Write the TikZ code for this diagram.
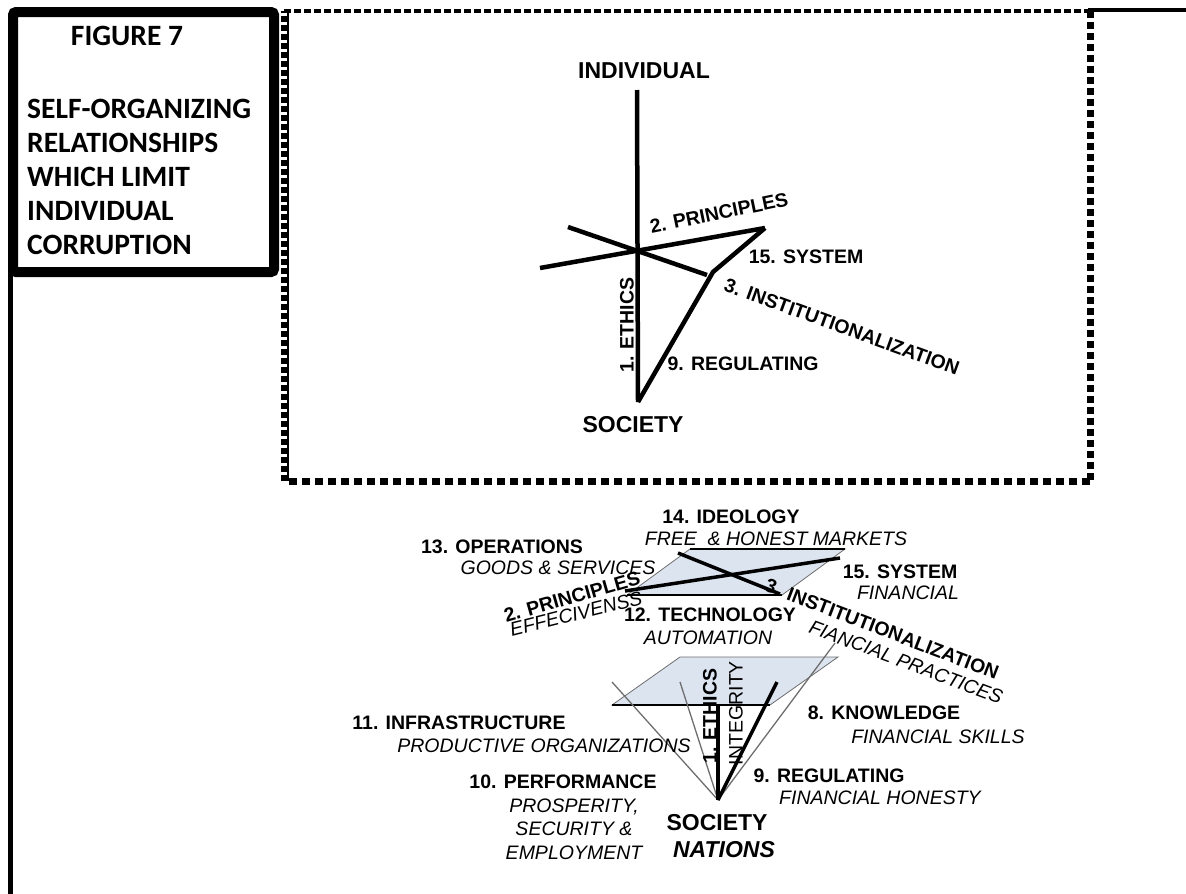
\documentclass[tikz,border=0pt]{standalone}
\usepackage{fontspec}
\newfontfamily\arl{Liberation Sans}
\newfontfamily\carl{Carlito}
\definecolor{plane}{RGB}{220,228,240}
\definecolor{thinline}{RGB}{110,110,110}
\tikzset{
  lb/.style={font=\arl\bfseries\fontsize{19.5}{22}\selectfont, inner sep=0pt},
  li/.style={font=\arl\itshape\fontsize{19.5}{22}\selectfont, inner sep=0pt},
  big/.style={font=\arl\bfseries\fontsize{23}{26}\selectfont, inner sep=0pt},
  bigi/.style={font=\arl\bfseries\itshape\fontsize{23}{26}\selectfont, inner sep=0pt},
  title/.style={font=\carl\bfseries\fontsize{29.5}{34}\selectfont, inner sep=0pt},
  axline/.style={line width=4.5pt},
  mainline/.style={line width=3.5pt},
  guide/.style={line width=1.3pt, thinline},
  planebox/.style={fill=plane, draw=thinline, line width=0.8pt},
}
\begin{document}
\begin{tikzpicture}[x=1pt,y=-1pt]
\useasboundingbox (0,0) rectangle (1186,894);

% ---------- outer frame and title box ----------
\draw[line width=5pt] (10.5,270) -- (10.5,894);
\draw[line width=4pt] (1088,10) -- (1186,10);
\draw[line width=10pt, rounded corners=3pt] (13,12) rectangle (274,272);
\node[title] (fig) at (127,36) {FIGURE 7};
\node[title, anchor=north west, align=left] (ttl) at (27,99)
  {SELF-ORGANIZING\\RELATIONSHIPS\\WHICH LIMIT\\INDIVIDUAL\\CORRUPTION};

% ---------- dotted box ----------
\draw[line width=4pt, dash pattern=on 7pt off 3pt] (284,11) -- (1090,11);
\draw[line width=7pt, dash pattern=on 7pt off 4pt] (1090,11) -- (1090,481);
\draw[line width=7pt, dash pattern=on 8pt off 5pt] (1090,481) -- (285,481);
\draw[line width=8pt, dash pattern=on 6pt off 3pt] (285,481) -- (285,11);
\draw[line width=2.5pt] (288,11) -- (288,481);

% ---------- top diagram ----------
\coordinate (tTop) at (637,90);
\coordinate (tBot) at (638,402);
\coordinate (pL) at (540,268);
\coordinate (pR) at (765,228);
\coordinate (iL) at (568,227);
\coordinate (iR) at (707,275);
\coordinate (sBend) at (713,272);
\node[big] (ind) at (644,71) {INDIVIDUAL};
\node[big] (soc) at (633,425) {SOCIETY};
\draw[axline] (tTop) -- (tBot);
\draw[axline] (pL) -- (pR);
\draw[axline] (iL) -- (iR);
\draw[axline, line join=round] (pR) -- (sBend) -- (tBot);
\node[lb, rotate=90] (eth) at (627,325) {1. ETHICS};
\node[lb, rotate=11.6] (pri) at (719,213) {2. PRINCIPLES};
\node[lb] (sys) at (806,257) {15. SYSTEM};
\node[lb, rotate=-20] (ins) at (842,327) {3. INSTITUTIONALIZATION};
\node[lb] (reg) at (743,364) {9. REGULATING};

% ---------- bottom diagram: planes ----------
\coordinate (apex) at (718,800);
\path[planebox] (627,595) -- (690,549) -- (845,549) -- (782,595) -- cycle;
\draw[line width=1.5pt] (690,549) -- (845,549);
\draw[line width=2pt] (627,595) -- (782,595);
\path[planebox] (612,705) -- (680,657) -- (838,657) -- (770,705) -- cycle;
\draw[line width=1.8pt] (612,705) -- (770,705);

% thick lines in upper plane
\draw[mainline] (625,591) -- (840,558);
\draw[mainline] (678,553) -- (780,594);

% converging lines to apex
\coordinate (g1) at (612,682);
\coordinate (g2) at (680,682);
\coordinate (g3) at (835,643);
\coordinate (intTop) at (777,682);
\coordinate (ethTop) at (718,705);
\draw[guide] (g1) -- (apex);
\draw[guide] (g2) -- (apex);
\draw[guide] (g3) -- (apex);
\draw[mainline] (ethTop) -- (apex);
\draw[mainline] (intTop) -- (apex);

% ---------- bottom labels ----------
\node[lb] (ideo) at (731,517) {14. IDEOLOGY};
\node[li] (free) at (776,539) {FREE\ \ \& HONEST MARKETS};
\node[lb] (ops) at (502,547) {13. OPERATIONS};
\node[li] (goods) at (558,568) {GOODS \& SERVICES};
\node[lb, rotate=16] (pri2) at (572,597) {2. PRINCIPLES};
\node[li, rotate=14] (eff) at (576,614) {EFFECIVENSS};
\node[lb] (tech) at (710,615) {12. TECHNOLOGY};
\node[li] (auto) at (708,638) {AUTOMATION};
\node[lb] (sys2) at (900,572) {15. SYSTEM};
\node[li] (fin) at (908,593) {FINANCIAL};
\node[lb, rotate=-21] (ins2) at (882,629) {3. INSTITUTIONALIZATION};
\node[li, rotate=-20.5] (prac) at (906,662) {FIANCIAL PRACTICES};
\node[lb] (infra) at (459,723) {11. INFRASTRUCTURE};
\node[li] (prod) at (544,746) {PRODUCTIVE ORGANIZATIONS};
\node[lb] (perf) at (563,782) {10. PERFORMANCE};
\node[li, align=center, font=\arl\itshape\fontsize{19.5}{23.5}\selectfont] (pros) at (574,829)
  {PROSPERITY,\\SECURITY \&\\EMPLOYMENT};
\node[big] (soc2) at (717,823) {SOCIETY};
\node[bigi] (nat) at (724,850) {NATIONS};
\node[lb] (know) at (884,713) {8. KNOWLEDGE};
\node[li] (skill) at (938,737) {FINANCIAL SKILLS};
\node[lb] (reg2) at (829,776) {9. REGULATING};
\node[li] (hon) at (880,798) {FINANCIAL HONESTY};
\node[lb, rotate=90] (eth2) at (710,716) {1. ETHICS};
\node[font=\arl\fontsize{19.5}{22}\selectfont, inner sep=0pt, rotate=90] (integ) at (736,713) {INTEGRITY};
\end{tikzpicture}
\end{document}
